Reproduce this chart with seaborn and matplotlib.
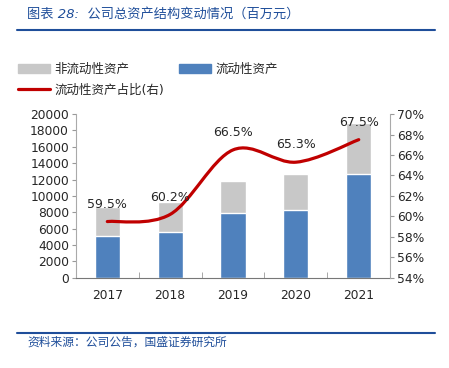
import numpy as np
import pandas as pd
import matplotlib
matplotlib.use("Agg")
import matplotlib.pyplot as plt
import seaborn as sns
from matplotlib.path import Path
from matplotlib.patches import PathPatch, Patch
from matplotlib.lines import Line2D
from matplotlib.ticker import FixedLocator, FuncFormatter

#%% dati
years = ["2017", "2018", "2019", "2020", "2021"]
total_assets = [8660, 9300, 11850, 12720, 18850]      # totale (barra grigia)
current_assets = [5160, 5600, 7880, 8300, 12730]      # 流动性资产
current_ratio = [59.5, 60.2, 66.5, 65.3, 67.5]        # % (asse destro)

title = "图表 28:  公司总资产结构变动情况（百万元）"
source = "资料来源：公司公告，国盛证券研究所"
lab_noncur = "非流动性资产"
lab_cur = "流动性资产"
lab_ratio = "流动性资产占比(右)"

gray = "#C8C8C8"
blue = "#4F81BD"
red = "#C00000"
navy = "#1F4E9A"

#%% stile
sns.set_style("white")
plt.rcParams["font.family"] = ["DejaVu Sans", "Noto Sans CJK SC"]

df = pd.DataFrame({"year": years, "total": total_assets, "current": current_assets})

fig = plt.figure(figsize=(4.49, 3.68), dpi=100)
ax = fig.add_axes([0.169, 0.245, 0.700, 0.445])

sns.barplot(data=df, x="year", y="total", color=gray, width=0.4, saturation=1, ax=ax)
sns.barplot(data=df, x="year", y="current", color=blue, width=0.4, saturation=1, ax=ax)

ax.set_ylim(0, 20000)
ax.set_yticks(range(0, 20001, 2000))
ax.set_xlim(-0.5, len(years) - 0.5)
ax.set_xlabel("")
ax.set_ylabel("")
ax.tick_params(axis="y", labelsize=8.8, length=3, color="#999999", direction="out", left=True, pad=2)
ax.tick_params(axis="x", labelsize=8.8, length=0, pad=8)
ax.xaxis.set_minor_locator(FixedLocator(np.arange(0.5, len(years) - 1, 1)))
ax.tick_params(axis="x", which="minor", length=4, direction="in", color="#999999", bottom=True)
for s in ["top", "right"]:
    ax.spines[s].set_visible(False)
ax.spines["left"].set_color("#AAAAAA")
ax.spines["bottom"].set_color("#777777")

#%% asse destro con linea smussata
ax2 = ax.twinx()
ax2.set_ylim(54, 70)
ax2.set_yticks(range(54, 71, 2))
ax2.yaxis.set_major_formatter(FuncFormatter(lambda v, p: f"{v:.0f}%"))
ax2.tick_params(axis="y", labelsize=8.8, length=3, color="#999999", direction="out", right=True, pad=2)
for s in ["top", "left", "bottom"]:
    ax2.spines[s].set_visible(False)
ax2.spines["right"].set_color("#AAAAAA")

# curva di Bezier tipo Excel (catmull-rom) attraverso i punti
xs = np.arange(len(years), dtype=float)
ys = np.array(current_ratio, dtype=float)
verts = [(xs[0], ys[0])]
codes = [Path.MOVETO]
n = len(xs)
for i in range(n - 1):
    p0 = np.array([xs[max(i - 1, 0)], ys[max(i - 1, 0)]])
    p1 = np.array([xs[i], ys[i]])
    p2 = np.array([xs[i + 1], ys[i + 1]])
    p3 = np.array([xs[min(i + 2, n - 1)], ys[min(i + 2, n - 1)]])
    c1 = p1 + (p2 - p0) / 6
    c2 = p2 - (p3 - p1) / 6
    verts += [tuple(c1), tuple(c2), tuple(p2)]
    codes += [Path.CURVE4] * 3
ax2.add_patch(PathPatch(Path(verts, codes), facecolor="none", edgecolor=red, lw=2.3, capstyle="round"))

for x, y in zip(xs, ys):
    ax2.annotate(f"{y:.1f}%", (x, y), xytext=(0, 12.5), textcoords="offset points",
                 ha="center", va="center", fontsize=9)

#%% legenda
handles = [Patch(color=gray), Line2D([], [], color=red, lw=2.3), Patch(color=blue)]
labels = [lab_noncur, lab_ratio, lab_cur]
fig.legend(handles, labels, ncol=2, loc="upper left", bbox_to_anchor=(0.015, 0.86),
           frameon=False, fontsize=9, handlelength=2.6, handleheight=0.8,
           labelspacing=0.6, columnspacing=1.2, handletextpad=0.3)

#%% titolo e fonte
fig.text(0.06, 0.96, title, color=navy, fontsize=9.5, style="italic", va="center", ha="left")
fig.add_artist(Line2D([0.038, 0.969], [0.918, 0.918], color=navy, lw=1.5, transform=fig.transFigure))
fig.add_artist(Line2D([0.038, 0.969], [0.095, 0.095], color=navy, lw=1.5, transform=fig.transFigure))
fig.text(0.06, 0.07, source, color=navy, fontsize=8.5, style="italic", va="center", ha="left")

fig.savefig("out.png", dpi=100)
